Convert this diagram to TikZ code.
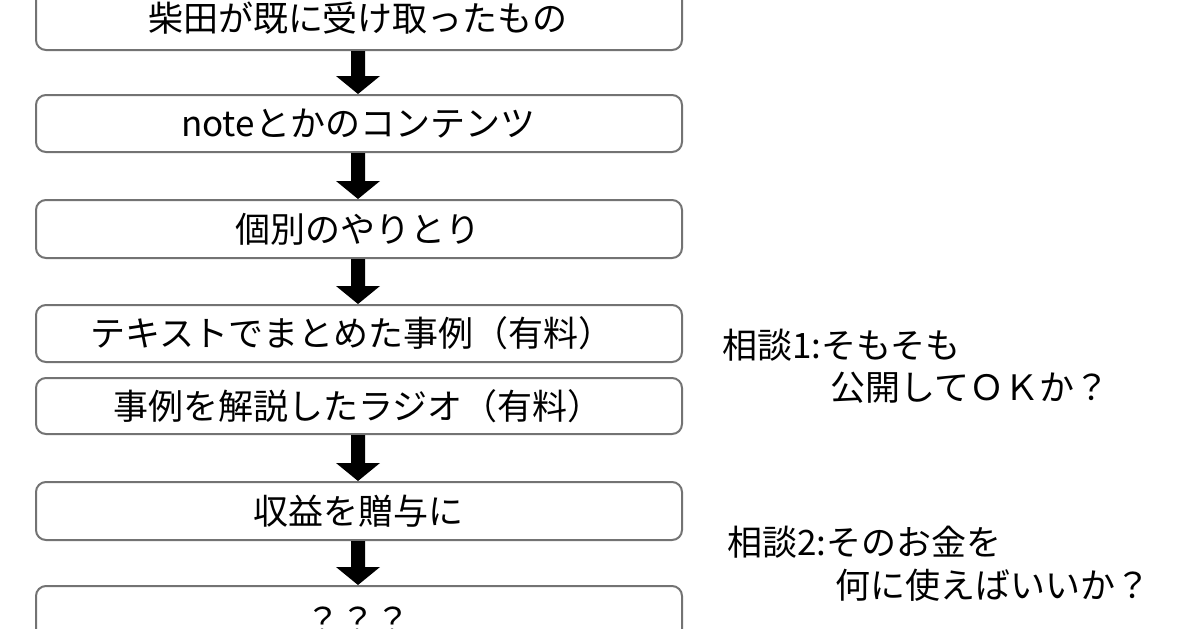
\documentclass[tikz,border=0pt]{standalone}
\usepackage{fontspec}
\newfontfamily\cjk{Noto Sans CJK JP}
\begin{document}
\begin{tikzpicture}[x=0.5pt,y=-0.5pt,
  box/.style={draw=black!55,line width=1pt,rounded corners=5pt,fill=white},
  lbl/.style={font=\cjk\fontsize{17.5}{20}\selectfont,anchor=center,inner sep=0},
  note/.style={font=\cjk\fontsize{17.5}{20}\selectfont,anchor=west,inner sep=0}]
\useasboundingbox (0,0) rectangle (1200,628);
\clip (0,0) rectangle (1200,628);
\fill[white] (0,0) rectangle (1200,628);
\newcommand{\blockarrow}[2]{%
  \fill[black] (351,#1) -- (365,#1) -- (365,#2-18) -- (380,#2-18) -- (358,#2) -- (336,#2-18) -- (351,#2-18) -- cycle;}
\draw[box] (36,-12) rectangle (682,50);
\node[lbl] (b1) at (358,18) {柴田が既に受け取ったもの};
\draw[box] (36,95) rectangle (682,152);
\node[lbl] (b2) at (358,124) {noteとかのコンテンツ};
\draw[box] (36,200) rectangle (682,258);
\node[lbl] (b3) at (358,229) {個別のやりとり};
\draw[box] (36,305) rectangle (682,362);
\node[lbl] (b4) at (352,333) {テキストでまとめた事例（有料）};
\draw[box] (36,378) rectangle (682,434);
\node[lbl] (b5) at (358,406) {事例を解説したラジオ（有料）};
\draw[box] (36,482) rectangle (682,540);
\node[lbl] (b6) at (358,511) {収益を贈与に};
\draw[box] (36,586) rectangle (682,660);
\node[lbl] (b7) at (358,620) {？？？};
\blockarrow{51}{94}
\blockarrow{153}{199}
\blockarrow{259}{304}
\blockarrow{435}{481}
\blockarrow{541}{585}
\node[note] (n1) at (722,345) {相談1:そもそも};
\node[note] (n2) at (830,388) {公開してＯＫか？};
\node[note] (n3) at (727,542) {相談2:そのお金を};
\node[note] (n4) at (835,585) {何に使えばいいか？};
\end{tikzpicture}
\end{document}
